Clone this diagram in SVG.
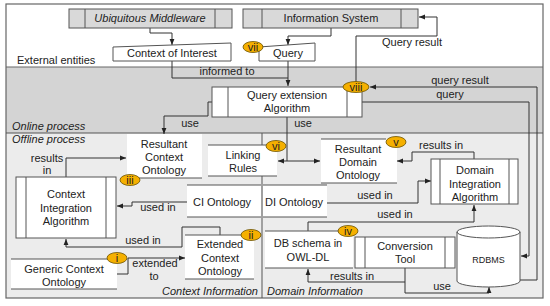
<svg xmlns="http://www.w3.org/2000/svg" width="550" height="306" viewBox="0 0 550 306">
<style>
.t{font-family:"Liberation Sans",Arial,sans-serif;font-size:11px;fill:#222;text-anchor:middle}
.l{text-anchor:start}
.r{text-anchor:end}
.i{font-style:italic}
.w{fill:#fff;stroke:none}
.bx{fill:#fff;stroke:#555;stroke-width:1}
.gb{fill:#d9d9d9;stroke:#555;stroke-width:1}
.sl{fill:none;stroke:#555;stroke-width:1}
.ln{fill:none;stroke:#333;stroke-width:1}
.ar{marker-end:url(#ah)}
.bd{fill:#f5b000;stroke:#6b5200;stroke-width:0.8}
</style>
<defs>
<marker id="ah" viewBox="0 0 10 10" refX="10" refY="5" markerWidth="6" markerHeight="6" orient="auto-start-reverse" markerUnits="userSpaceOnUse"><path d="M0,1 L10,5 L0,9 z" fill="#222"/></marker>
</defs>
<g id="background">
<rect x="6" y="4" width="537" height="63" fill="#fff"/>
<rect x="6" y="67" width="537" height="66" fill="#d4d4d4"/>
<rect x="6" y="133" width="537" height="165" fill="#ececec"/>
<rect x="6" y="4" width="537" height="294" fill="none" stroke="#666" stroke-width="1.2"/>
<line x1="6" y1="67" x2="543" y2="67" stroke="#666" stroke-width="1"/>
<line x1="6" y1="133" x2="543" y2="133" stroke="#555" stroke-width="1.2"/>
<line x1="262" y1="133" x2="262" y2="298" stroke="#555" stroke-width="1"/>
<text class="t l" x="17" y="64">External entities</text>
<text class="t l i" x="12" y="130">Online process</text>
<text class="t l i" x="12" y="143">Offline process</text>
<text class="t r i" x="258" y="295">Context Information</text>
<text class="t l i" x="267" y="295">Domain Information</text>
</g>
<g id="connectors">
<path class="ln ar" d="M150,28 V33 H172 V45"/>
<path class="ln ar" d="M331,28 V36 H288 V45"/>
<path class="ln ar" d="M288,61 V86"/>
<path class="ln" d="M172,61 V78 H288"/>
<text class="t" x="227" y="75">informed to</text>
<path class="ln ar" d="M356,82 V36 H437 V17 H419"/>
<text class="t" x="412" y="46">Query result</text>
<path class="ln ar" d="M520,280 H537 V87 H370"/>
<text class="t" x="460" y="84">query result</text>
<path class="ln ar" d="M362,102 H529 V256 H521"/>
<text class="t" x="450" y="98">query</text>
<path class="ln ar" d="M212,102 H208 V116 H164 V134"/>
<text class="t" x="190" y="127">use</text>
<path class="ln" d="M287,117 V161"/>
<path class="ln" d="M278,161 H320" marker-start="url(#ah)" marker-end="url(#ah)"/>
<text class="t" x="303" y="127">use</text>
<path class="ln ar" d="M66,177 V158 H126"/>
<text class="t" x="47" y="162">results</text>
<text class="t" x="47" y="174">in</text>
<path class="ln ar" d="M187,202 H132 V206 H117"/>
<text class="t" x="158" y="211">used in</text>
<path class="ln ar" d="M220,236 V227 H182 V247 H66 V239"/>
<text class="t" x="143" y="244">used in</text>
<path class="ln ar" d="M117,274 H128 V258 H185"/>
<text class="t" x="155" y="267">extended</text>
<text class="t" x="154" y="280">to</text>
<path class="ln ar" d="M474,159 V152 H412 V161 H397"/>
<text class="t" x="441" y="149">results in</text>
<path class="ln ar" d="M327,203 H418 V181 H431"/>
<text class="t" x="375" y="199">used in</text>
<path class="ln ar" d="M308,231 V222 H474 V205"/>
<text class="t" x="395" y="218">used in</text>
<path class="ln ar" d="M405,268 V282 H308 V269"/>
<text class="t" x="352" y="280">results in</text>
<path class="ln ar" d="M405,282 V293 H489 V287"/>
<text class="t" x="442" y="290">use</text>
</g>
<g id="ubiquitous-middleware">
<rect class="gb" x="69" y="9" width="163" height="19"/>
<line class="sl" x1="85" y1="9" x2="85" y2="28"/>
<line class="sl" x1="215" y1="9" x2="215" y2="28"/>
<text class="t i" x="150" y="22">Ubiquitous Middleware</text>
</g>
<g id="information-system">
<rect class="gb" x="243" y="9" width="175" height="19"/>
<line class="sl" x1="262" y1="9" x2="262" y2="28"/>
<line class="sl" x1="401" y1="9" x2="401" y2="28"/>
<text class="t" x="331" y="22">Information System</text>
</g>
<g id="context-of-interest">
<path class="bx" d="M113,47 L231,43 V61 H113 Z"/>
<text class="t" x="172" y="57">Context of Interest</text>
</g>
<g id="query">
<path class="bx" d="M259,47 L315,43 V61 H259 Z"/>
<text class="t" x="288" y="57">Query</text>
<ellipse class="bd" cx="253" cy="47" rx="10" ry="5.5"/>
<text class="t" x="253" y="51">vii</text>
</g>
<g id="query-extension-algorithm">
<rect class="bx" x="212" y="87" width="150" height="30"/>
<line class="sl" x1="228" y1="87" x2="228" y2="117"/>
<line class="sl" x1="347" y1="87" x2="347" y2="117"/>
<text class="t" x="287" y="99">Query extension</text>
<text class="t" x="287" y="112">Algorithm</text>
<ellipse class="bd" cx="356" cy="87" rx="13" ry="5.5"/>
<text class="t" x="356" y="91">viii</text>
</g>
<g id="resultant-context-ontology">
<rect class="w" x="127" y="134" width="75" height="44"/>
<line class="sl" x1="127" y1="178" x2="202" y2="178"/>
<text class="t" x="164" y="148">Resultant</text>
<text class="t" x="164" y="161">Context</text>
<text class="t" x="164" y="174">Ontology</text>
<ellipse class="bd" cx="130" cy="180" rx="10" ry="5.5"/>
<text class="t" x="130" y="184">iii</text>
</g>
<g id="linking-rules">
<rect class="w" x="208" y="145" width="69" height="31"/>
<line class="sl" x1="208" y1="145" x2="266" y2="145"/>
<line class="sl" x1="208" y1="176" x2="277" y2="176"/>
<text class="t" x="243" y="159">Linking</text>
<text class="t" x="243" y="172">Rules</text>
<ellipse class="bd" cx="276" cy="146" rx="10" ry="5.5"/>
<text class="t" x="276" y="150">vi</text>
</g>
<g id="resultant-domain-ontology">
<rect class="w" x="321" y="139" width="76" height="44"/>
<line class="sl" x1="321" y1="139" x2="386" y2="139" stroke="#999"/>
<line class="sl" x1="321" y1="183" x2="397" y2="183"/>
<text class="t" x="358" y="153">Resultant</text>
<text class="t" x="358" y="166">Domain</text>
<text class="t" x="358" y="179">Ontology</text>
<ellipse class="bd" cx="396" cy="142" rx="10" ry="5.5"/>
<text class="t" x="396" y="146">v</text>
</g>
<g id="context-integration-algorithm">
<rect class="bx" x="16" y="177" width="100" height="61"/>
<line class="sl" x1="26" y1="177" x2="26" y2="238"/>
<line class="sl" x1="106" y1="177" x2="106" y2="238"/>
<text class="t" x="66" y="198">Context</text>
<text class="t" x="66" y="212">Integration</text>
<text class="t" x="66" y="225">Algorithm</text>
</g>
<g id="ci-ontology">
<rect class="w" x="187" y="185" width="74" height="32"/>
<line class="sl" x1="187" y1="185" x2="261" y2="185"/>
<line class="sl" x1="187" y1="217" x2="261" y2="217"/>
<text class="t" x="222" y="206">CI Ontology</text>
</g>
<g id="di-ontology">
<rect class="w" x="263" y="185" width="64" height="32"/>
<line class="sl" x1="263" y1="185" x2="327" y2="185"/>
<line class="sl" x1="263" y1="217" x2="327" y2="217"/>
<text class="t" x="294" y="206">DI Ontology</text>
</g>
<g id="domain-integration-algorithm">
<rect class="bx" x="431" y="159" width="87" height="45"/>
<line class="sl" x1="440" y1="159" x2="440" y2="204"/>
<line class="sl" x1="509" y1="159" x2="509" y2="204"/>
<text class="t" x="475" y="174">Domain</text>
<text class="t" x="475" y="188">Integration</text>
<text class="t" x="475" y="201">Algorithm</text>
</g>
<g id="extended-context-ontology">
<rect class="w" x="185" y="235" width="69" height="44"/>
<line class="sl" x1="185" y1="235" x2="254" y2="235"/>
<line class="sl" x1="185" y1="279" x2="254" y2="279"/>
<text class="t" x="220" y="248">Extended</text>
<text class="t" x="220" y="262">Context</text>
<text class="t" x="220" y="275">Ontology</text>
<ellipse class="bd" cx="251" cy="235" rx="10" ry="5.5"/>
<text class="t" x="251" y="239">ii</text>
</g>
<g id="generic-context-ontology">
<rect class="w" x="11" y="259" width="106" height="30"/>
<line class="sl" x1="11" y1="259" x2="117" y2="259"/>
<line class="sl" x1="11" y1="289" x2="117" y2="289"/>
<text class="t" x="64" y="273">Generic Context</text>
<text class="t" x="64" y="286">Ontology</text>
<ellipse class="bd" cx="117" cy="258" rx="10" ry="5.5"/>
<text class="t" x="117" y="262">i</text>
</g>
<g id="db-schema">
<rect class="w" x="265" y="231" width="88" height="37"/>
<line class="sl" x1="265" y1="231" x2="353" y2="231"/>
<line class="sl" x1="265" y1="268" x2="353" y2="268"/>
<text class="t" x="308" y="247">DB schema in</text>
<text class="t" x="308" y="261">OWL-DL</text>
<ellipse class="bd" cx="348" cy="231" rx="10" ry="5.5"/>
<text class="t" x="348" y="235">iv</text>
</g>
<g id="conversion-tool">
<rect class="bx" x="355" y="237" width="100" height="31"/>
<line class="sl" x1="365" y1="237" x2="365" y2="268"/>
<line class="sl" x1="445" y1="237" x2="445" y2="268"/>
<text class="t" x="405" y="250">Conversion</text>
<text class="t" x="405" y="263">Tool</text>
</g>
<g id="rdbms">
<path class="bx" d="M457,232 A31.5,6 0 0 1 520,232 V281 A31.5,6 0 0 1 457,281 Z"/>
<path class="sl" d="M457,232 A31.5,6 0 0 0 520,232"/>
<text class="t" x="488.5" y="263" style="font-size:9px">RDBMS</text>
</g>
</svg>
